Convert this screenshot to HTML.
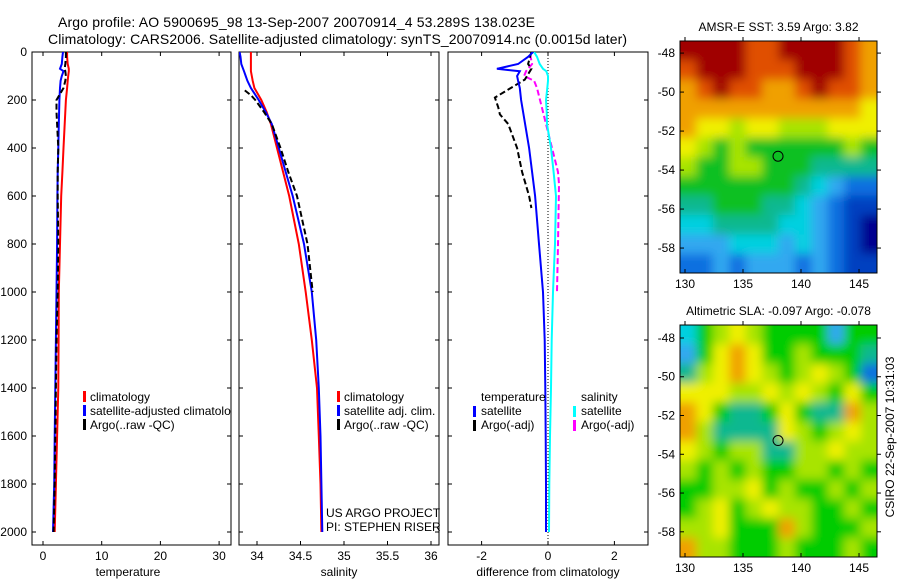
<!DOCTYPE html>
<html><head><meta charset="utf-8">
<style>
html,body{margin:0;padding:0;background:#fff;}
svg{display:block;font-family:"Liberation Sans",sans-serif;}
text{font-size:12px;fill:#000;}
</style></head>
<body>
<svg id="c" width="900" height="580" viewBox="0 0 900 580" xmlns="http://www.w3.org/2000/svg">
<defs>
<clipPath id="cp1"><rect x="32" y="52" width="199" height="493"/></clipPath>
<clipPath id="cp2"><rect x="239" y="52" width="200" height="493"/></clipPath>
<clipPath id="cp3"><rect x="448" y="52" width="200" height="493"/></clipPath>
<clipPath id="cpm1"><rect x="680" y="41" width="197" height="232"/></clipPath>
<clipPath id="cpm2"><rect x="680" y="325" width="197" height="232"/></clipPath>
<filter id="blur" x="-10%" y="-10%" width="120%" height="120%"><feGaussianBlur stdDeviation="5"/></filter>
</defs>
<text x="58" y="27" textLength="477" style="font-size:14px">Argo profile: AO 5900695_98 13-Sep-2007 20070914_4 53.289S 138.023E</text>
<text x="48" y="44" textLength="579" style="font-size:14px">Climatology: CARS2006. Satellite-adjusted climatology: synTS_20070914.nc (0.0015d later)</text>
<g id="g"></g>
</svg>
<script>
// ---- data ----
const depths = [0,20,50,70,80,100,120,150,200,250,300,400,500,600,800,1000,1200,1400,1600,1800,2000];
const tempClim = [4.1,4.1,4.2,4.4,4.4,4.3,4.2,4.1,3.9,3.8,3.7,3.5,3.3,3.1,2.9,2.7,2.65,2.6,2.4,2.2,2.0];
const tempSat  = [3.4,3.3,3.2,2.9,3.5,3.2,3.0,2.9,2.8,2.75,2.7,2.6,2.5,2.45,2.4,2.3,2.2,2.1,2.0,1.9,1.7];
const tempArgo = [3.9,3.9,3.8,3.7,3.8,3.9,3.8,3.5,2.3,2.3,2.4,2.6,2.5,2.5,2.6,2.5,2.3,2.2,2.1,2.0,1.8];
const salClim = [33.93,33.93,33.93,33.93,33.93,33.94,33.95,33.97,34.05,34.11,34.16,34.23,34.30,34.37,34.48,34.56,34.63,34.69,34.71,34.73,34.74];
const salSat  = [33.80,33.81,33.82,33.84,33.85,33.87,33.89,33.93,34.02,34.10,34.17,34.25,34.33,34.41,34.54,34.63,34.68,34.71,34.73,34.74,34.75];
const salArgoDepths = [160,180,200,250,300,400,500,600,800,1000];
const salArgo = [33.86,33.93,33.98,34.08,34.17,34.27,34.36,34.46,34.58,34.64];
const dTempSat = [-0.45,-0.6,-0.9,-1.54,-0.85,-0.93,-0.9,-0.85,-0.81,-0.75,-0.69,-0.57,-0.48,-0.39,-0.27,-0.15,-0.1,-0.08,-0.07,-0.06,-0.06];
const dSalSat  = [-0.42,-0.33,-0.25,-0.15,-0.05,0.0,0.0,-0.02,-0.06,-0.04,-0.03,0.09,0.17,0.24,0.21,0.15,0.11,0.09,0.06,0.04,0.03];
const dTempArgoDepths = [0,50,70,115,165,190,230,260,300,400,500,600,650];
const dTempArgo = [-0.5,-0.6,-0.5,-0.7,-1.3,-1.6,-1.5,-1.45,-1.2,-0.93,-0.78,-0.57,-0.5];
const dSalArgoDepths = [10,50,80,100,120,150,200,300,400,500,550,800,1000];
const dSalArgo = [-0.54,-0.48,-0.66,-0.72,-0.42,-0.33,-0.24,-0.06,0.12,0.3,0.33,0.3,0.27];
const depthTicks = [0,200,400,600,800,1000,1200,1400,1600,1800,2000];
const tempTicks = [0,10,20,30];
const salTicks = ["34","34.5","35","35.5","36"];
const diffTicks = [-2,0,2];
const lonTicks = [130,135,140,145];
const latTicks = [-48,-50,-52,-54,-56,-58];
// colour index grids (jet-like, 0 = dark blue ... 11 = dark red)
const sstGrid = [
[11,11,11,11,10,10,11,11,11,11,10,9],
[10,11,11,11,10,10,10,11,11,11,10,9],
[9,10,11,10,10,9,9,10,11,10,10,9],
[9,9,9,9,9,9,9,9,9,9,9,8],
[9,8,8,7,8,8,7,7,7,8,8,8],
[8,7,6,7,6,6,6,6,6,6,7,6],
[7,6,6,7,7,6,6,6,5,5,5,5],
[6,6,6,6,6,6,6,5,4,3,2,2],
[5,5,6,6,6,5,5,4,3,2,1,1],
[4,4,5,5,5,5,4,4,3,2,1,0],
[3,3,3,4,4,4,3,4,3,2,1,0],
[2,2,3,2,3,3,3,2,3,2,1,1]];
const slaGrid = [
[4,6,7,8,7,6,6,6,6,3,6,6],
[3,6,8,9,8,6,6,7,6,6,6,5],
[5,7,8,9,8,7,6,7,8,7,6,2],
[8,8,8,7,7,8,7,8,7,6,8,6],
[9,8,6,5,5,6,8,6,5,5,9,7],
[9,7,5,5,5,5,8,7,6,7,8,7],
[8,7,6,7,7,5,5,7,7,8,7,7],
[7,6,7,6,7,6,6,7,7,6,7,6],
[6,6,7,7,8,6,7,6,6,7,6,7],
[6,7,8,6,7,8,7,7,6,6,7,6],
[7,7,8,6,6,6,9,7,6,6,6,7],
[9,7,7,6,6,6,7,6,6,6,7,6]];
const argoLon = 138.02, argoLat = -53.29;
const palette = ["#00008f","#0040c0","#1070e0","#30a8f0","#00d0e0","#10b890","#10c020","#a8e400","#f0f000","#f0a000","#e05000","#a00000"];
const slaPal = palette.slice(); slaPal[6] = "#00cc00";

const NS="http://www.w3.org/2000/svg";
const G=document.getElementById('g');
function el(tag,attrs,parent,txt){const e=document.createElementNS(NS,tag);for(const k in attrs)e.setAttribute(k,attrs[k]);if(txt!==undefined)e.textContent=txt;(parent||G).appendChild(e);return e;}
const yD = d => 52 + d*0.24;
const xT = t => 43 + t*5.87;
const xS = s => 257 + (s-34)*87;
const xDf = v => 548 + v*33.2;

function frame(x,y,w,h,name){
  const r=el('rect',{x,y,width:w,height:h,fill:'none',stroke:'#000','stroke-width':1});
  
  
}
function depthAxis(x0,x1,labels){
  depthTicks.forEach(d=>{
    const y=yD(d);
    el('line',{x1:x0,y1:y,x2:x0+4,y2:y,stroke:'#000'});
    el('line',{x1:x1-4,y1:y,x2:x1,y2:y,stroke:'#000'});
    if(labels){const t=el('text',{x:27,y:y+4,'text-anchor':'end'},G,String(d));
      
      }
  });
}
function xAxis(ticks,fx,label,cx){
  ticks.forEach(v=>{
    const x=fx(+v);
    el('line',{x1:x,y1:545,x2:x,y2:541,stroke:'#000'});
    el('line',{x1:x,y1:52,x2:x,y2:56,stroke:'#000'});
    const t=el('text',{x:x,y:560,'text-anchor':'middle'},G,String(v));
    
    
  });
  const t=el('text',{x:cx,y:576,'text-anchor':'middle'},G,label);
  
  
}
function line(xs,ds,fx,color,clip,name,dash,w){
  const pts=xs.map((v,i)=>fx(v).toFixed(1)+','+yD(ds[i]).toFixed(1)).join(' ');
  const p=el('polyline',{points:pts,fill:'none',stroke:color,'stroke-width':w||2,'clip-path':'url(#'+clip+')'});
  if(dash)p.setAttribute('stroke-dasharray',dash);
  
  
}
function legend(x,y,color,label,name){
  el('rect',{x:x,y:y-9,width:3,height:11,fill:color});
  const t=el('text',{x:x+7,y:y+1,'clip-path':'url(#cp1)'},G,label);
  
  
  return t;
}

// panel 1 temperature
frame(32,52,199,493,'temperature-panel');
depthAxis(32,231,true);
xAxis(tempTicks,xT,'temperature',128);
line(tempClim,depths,xT,'#f00','cp1','temperature-climatology-line');
line(tempSat,depths,xT,'#00f','cp1','temperature-satellite-line');
line(tempArgo,depths,xT,'#000','cp1','temperature-argo-line','6,3');
legend(83,400,'#f00','climatology','legend-climatology');
legend(83,414,'#00f','satellite-adjusted climatology','legend-satellite-adjusted');
legend(83,428,'#000','Argo(..raw -QC)','legend-argo');

// panel 2 salinity
frame(239,52,200,493,'salinity-panel');
depthAxis(239,439,false);
xAxis(salTicks,xS,'salinity',339);
line(salClim,depths,xS,'#f00','cp2','salinity-climatology-line');
line(salSat,depths,xS,'#00f','cp2','salinity-satellite-line');
line(salArgo,salArgoDepths,xS,'#000','cp2','salinity-argo-line','6,3');
[[400,'#f00','climatology'],[414,'#00f','satellite adj. clim.'],[428,'#000','Argo(..raw -QC)']].forEach(a=>{
  el('rect',{x:337,y:a[0]-9,width:3,height:11,fill:a[1]});
  const t=el('text',{x:344,y:a[0]+1},G,a[2]);
  
  
});
{const t=el('text',{x:326,y:517},G,'US ARGO PROJECT');


const t2=el('text',{x:326,y:531},G,'PI: STEPHEN RISER');

}

// panel 3 differences
frame(448,52,200,493,'difference-panel');
depthAxis(448,648,false);
xAxis(diffTicks,xDf,'difference from climatology',548);
el('line',{x1:548,y1:52,x2:548,y2:545,stroke:'#000','stroke-dasharray':'1,2'});
line(dSalArgo,dSalArgoDepths,xDf,'#f0f','cp3','salinity-argo-diff-line','6,3');
line(dTempArgo,dTempArgoDepths,xDf,'#000','cp3','temperature-argo-diff-line','6,3');
line(dSalSat,depths,xDf,'#0ff','cp3','salinity-satellite-diff-line');
line(dTempSat,depths,xDf,'#00f','cp3','temperature-satellite-diff-line');
[[481,401,null,'temperature'],[473,415,'#00f','satellite'],[473,429,'#000','Argo(-adj)'],
 [581,401,null,'salinity'],[573,415,'#0ff','satellite'],[573,429,'#f0f','Argo(-adj)']].forEach(a=>{
  let tx=a[0];
  if(a[2]){el('rect',{x:a[0],y:a[1]-9,width:3,height:11,fill:a[2]});tx=a[0]+8;}
  const t=el('text',{x:tx,y:a[1]},G,a[3]);
  
  
});

// maps
function map(grid,pal,x0,y0,w,h,lonL,lonR,latT,latB,title,name,clip){
  const rows=grid.length, cols=grid[0].length;
  const cw=w/cols, ch=h/rows;
  const outer=el('g',{'clip-path':'url(#'+clip+')'});
  const g=el('g',{filter:'url(#blur)'},outer);
  
  
  const pad=20;
  grid.forEach((row,r)=>row.forEach((v,c)=>{
    let x=x0+c*cw, y=y0+r*ch, ww=cw+0.6, hh=ch+0.6;
    if(c===0){x-=pad;ww+=pad;} if(c===cols-1){ww+=pad;}
    if(r===0){y-=pad;hh+=pad;} if(r===rows-1){hh+=pad;}
    el('rect',{x:x.toFixed(2),y:y.toFixed(2),width:ww.toFixed(2),height:hh.toFixed(2),fill:pal[v]},g);
  }));
  const fx=lon=>x0+(lon-lonL)/(lonR-lonL)*w;
  const fy=lat=>y0+(latT-lat)/(latT-latB)*h;
  el('rect',{x:x0,y:y0,width:w,height:h,fill:'none',stroke:'#000'});
  lonTicks.forEach(l=>{const x=fx(l);
    el('line',{x1:x,y1:y0+h,x2:x,y2:y0+h-4,stroke:'#000'});
    el('line',{x1:x,y1:y0,x2:x,y2:y0-4,stroke:'#000'});
    const t=el('text',{x:x,y:y0+h+15,'text-anchor':'middle'},G,String(l));
    
    });
  latTicks.forEach(l=>{const y=fy(l);
    el('line',{x1:x0+w,y1:y,x2:x0+w+4,y2:y,stroke:'#000'});
    el('line',{x1:x0,y1:y,x2:x0+4,y2:y,stroke:'#000'});
    const t=el('text',{x:x0-5,y:y+4,'text-anchor':'end'},G,String(l));
    
    });
  const c=el('circle',{cx:fx(argoLon),cy:fy(argoLat),r:5,fill:'none',stroke:'#000'});
  
  
  const t=el('text',{x:x0+w/2,y:y0-10,'text-anchor':'middle'},G,title);
  
  
}
map(sstGrid,palette,680,41,197,232,129.57,146.55,-47.38,-59.28,'AMSR-E SST: 3.59 Argo: 3.82','sst-map','cpm1');
map(slaGrid,slaPal,680,325,197,232,129.57,146.55,-47.33,-59.3,'Altimetric SLA: -0.097 Argo: -0.078','sla-map','cpm2');

{const t=el('text',{x:0,y:0,transform:'translate(894,437) rotate(-90)','text-anchor':'middle'},G,'CSIRO 22-Sep-2007 10:31:03');

}
</script>
</body></html>
